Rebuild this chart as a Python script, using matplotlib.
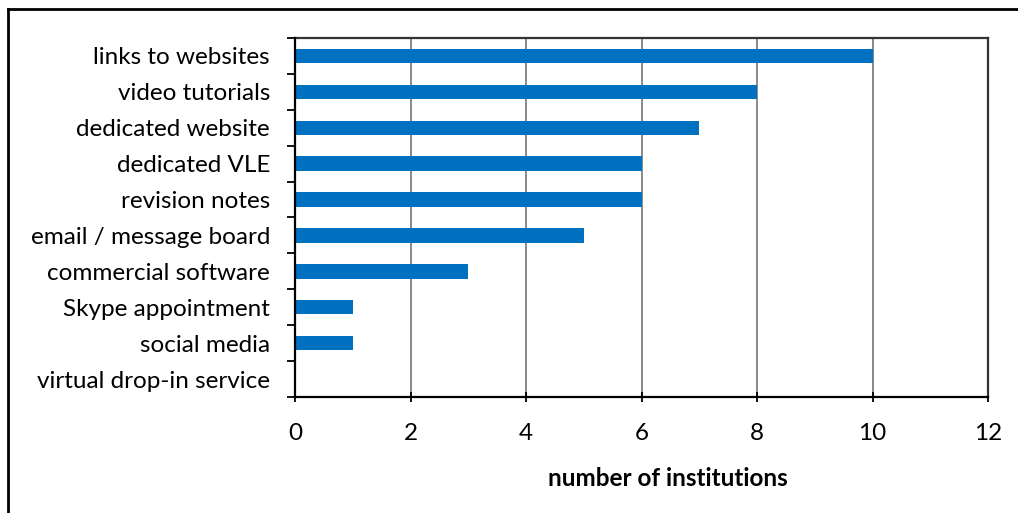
import matplotlib
matplotlib.use("Agg")
import matplotlib.pyplot as plt
from matplotlib.lines import Line2D
import numpy as np

categories = ["links to websites", "video tutorials", "dedicated website", "dedicated VLE",
              "revision notes", "email / message board", "commercial software",
              "Skype appointment", "social media", "virtual drop-in service"]
values = [10, 8, 7, 6, 6, 5, 3, 1, 1, 0]
xticks = [0, 2, 4, 6, 8, 10, 12]

plt.rcParams['font.family'] = ['Lato', 'DejaVu Sans']
FS = 17.5

fig = plt.figure(figsize=(10.18, 5.13), dpi=100)
W, H = 1018, 513
ax = fig.add_axes([295 / W, 1 - 397 / H, (988 - 295) / W, (397 - 38) / H])

n = len(categories)
y = np.arange(n)
ax.barh(y, values, height=0.4, color="#0070C0", zorder=3)
ax.set_ylim(n - 0.5, -0.5)
ax.set_xlim(0, 12)
ax.set_xticks(xticks)
ax.set_xticklabels([str(t) for t in xticks], fontsize=FS)
ax.set_yticks(y)
ax.set_yticklabels(categories, fontsize=FS)
ax.tick_params(axis='y', length=0, pad=18)
ax.set_yticks(np.arange(-0.5, n, 1), minor=True)
ax.tick_params(axis='y', which='minor', length=6, width=1.3, direction='out')
ax.tick_params(axis='x', length=7, width=1.3, direction='inout', pad=15)
ax.grid(axis='x', color='#808080', linewidth=1.3, zorder=0)
for s in ['left', 'bottom']:
    ax.spines[s].set_linewidth(1.6)
    ax.spines[s].set_color('black')
    ax.spines[s].set_zorder(4)
for s in ['top', 'right']:
    ax.spines[s].set_linewidth(1.6)
    ax.spines[s].set_color('#333333')
ax.set_xlabel("number of institutions", fontsize=FS, fontweight='bold')
ax.xaxis.set_label_coords(0.538, -0.195)

# figure border (left and top)
fig.add_artist(Line2D([8 / W, 8 / W], [0, 1 - 9 / H], transform=fig.transFigure, color='black', linewidth=2))
fig.add_artist(Line2D([8 / W, 1], [1 - 9 / H, 1 - 9 / H], transform=fig.transFigure, color='black', linewidth=2))

fig.savefig("out.png", dpi=100)
